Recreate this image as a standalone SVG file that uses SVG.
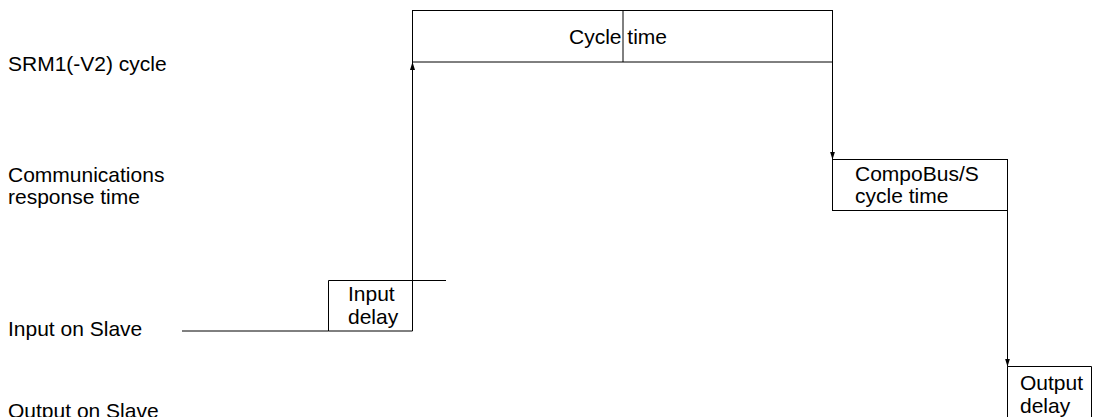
<svg xmlns="http://www.w3.org/2000/svg" width="1120" height="417" viewBox="0 0 1120 417">
<style>
text{font-family:"Liberation Sans",Arial,sans-serif;font-size:21px;fill:#000}
.ln{stroke:#000;stroke-width:1;fill:none}
.bx{stroke:#000;stroke-width:1;fill:#fff}
</style>
<defs>
<marker id="ah" viewBox="0 0 8 8" refX="8" refY="4" markerWidth="8" markerHeight="8" markerUnits="userSpaceOnUse" orient="auto">
<path d="M0,1.5 L8,4 L0,6.5 Z" fill="#000"/>
</marker>
</defs>
<g id="labels">
<text x="8" y="71">SRM1(-V2) cycle</text>
<text x="8" y="182">Communications</text>
<text x="8" y="204">response time</text>
<text x="8" y="336">Input on Slave</text>
<text x="8" y="418">Output on Slave</text>
</g>
<g id="cycle-time">
<rect class="bx" x="412.5" y="10.5" width="420" height="51.5"/>
<line class="ln" x1="623" y1="10.5" x2="623" y2="62" stroke-width="1.5"/>
<text x="569" y="44">Cycle time</text>
</g>
<g id="input-delay">
<path class="ln" d="M328.5,331 V280.5 H446"/>
<text x="348" y="301">Input</text>
<text x="348" y="324">delay</text>
</g>
<g id="compobus">
<rect class="bx" x="832.5" y="159.5" width="175" height="51"/>
<text x="855" y="181">CompoBus/S</text>
<text x="855" y="203">cycle time</text>
</g>
<g id="output-delay">
<path class="ln" d="M1007.5,366.5 H1091.5 V417"/>
<line class="ln" x1="1007.5" y1="366.5" x2="1007.5" y2="417"/>
<text x="1020" y="390">Output</text>
<text x="1020" y="413">delay</text>
</g>
<g id="connectors">
<line class="ln" x1="182" y1="331" x2="328.5" y2="331"/>
<line class="ln" x1="328.5" y1="331" x2="412.5" y2="331"/>
<line class="ln" x1="412.5" y1="331" x2="412.5" y2="62" marker-end="url(#ah)"/>
<line class="ln" x1="832.5" y1="62" x2="832.5" y2="159.5" marker-end="url(#ah)"/>
<line class="ln" x1="1007.5" y1="210.5" x2="1007.5" y2="366.5" marker-end="url(#ah)"/>
</g>
</svg>
